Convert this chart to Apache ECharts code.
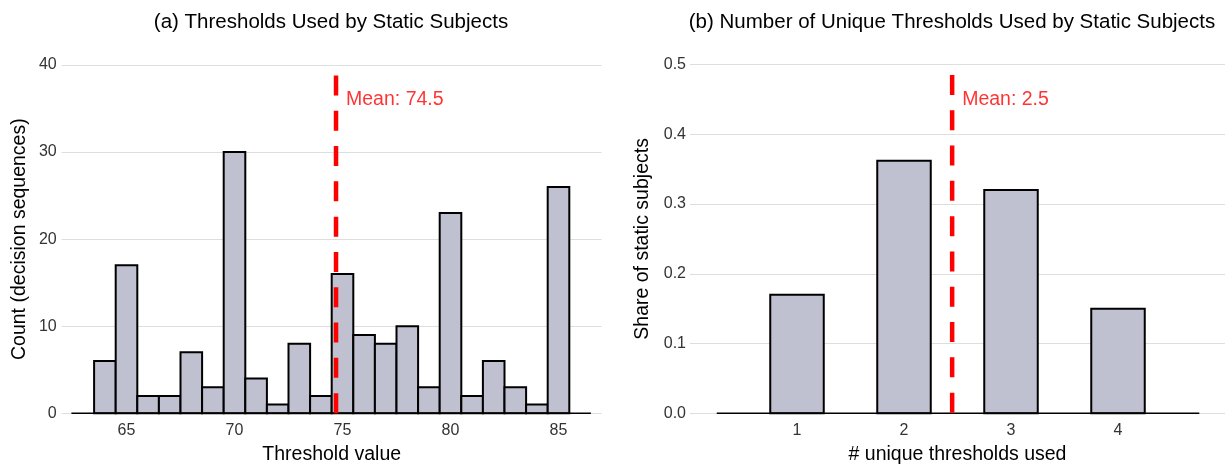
<!DOCTYPE html>
<html>
<head>
<meta charset="utf-8">
<script src="https://cdn.jsdelivr.net/npm/echarts@6/dist/echarts.min.js"></script>
<style>
html,body{margin:0;padding:0;background:#fff;}
#chart{width:1225px;height:464px;}
</style>
</head>
<body>
<div id="chart"></div>
<script>
// ---- Data ----
const thresholds = [64,65,66,67,68,69,70,71,72,73,74,75,76,77,78,79,80,81,82,83,84,85];
const thresholdCounts = [6,17,2,2,7,3,30,4,1,8,2,16,9,8,10,3,23,2,6,3,1,26];
const thresholdTicks = [65,70,75,80,85];
const uniqueCounts = [1,2,3,4];
const uniqueShares = [0.17,0.362,0.32,0.15];
const uniqueTicks = [1,2,3,4];
const meanThreshold = 74.7;
const meanThresholdLabel = 'Mean: 74.5';
const meanUnique = 2.45;
const meanUniqueLabel = 'Mean: 2.5';
const titles = ['(a) Thresholds Used by Static Subjects', '(b) Number of Unique Thresholds Used by Static Subjects'];
const xNames = ['Threshold value', '# unique thresholds used'];
const yNames = ['Count (decision sequences)', 'Share of static subjects'];

// ---- Style ----
const FONT = 'Liberation Sans, Arial, sans-serif';
const BAR_FILL = '#bfc1d1';
const GRID_COLOR = '#dedede';
const TICK_COLOR = '#333333';

function barItem(width) {
  return function (params, api) {
    const x = api.value(0), y = api.value(1);
    const p0 = api.coord([x - width / 2, y]);
    const p1 = api.coord([x + width / 2, 0]);
    return {
      type: 'rect',
      shape: { x: p0[0], y: p0[1], width: p1[0] - p0[0], height: p1[1] - p0[1] },
      style: { fill: BAR_FILL, stroke: '#000', lineWidth: 2 }
    };
  };
}

const chart = echarts.init(document.getElementById('chart'), null, { renderer: 'canvas' });

const axisLabelStyle = { color: TICK_COLOR, fontSize: 16, fontFamily: FONT };
const nameStyle = { color: '#000', fontSize: 19.5, fontFamily: FONT };

const option = {
  animation: false,
  backgroundColor: '#fff',
  textStyle: { fontFamily: FONT },
  graphic: [
    { type: 'text', x: 331, y: 22, style: { text: titles[0], textAlign: 'center', textVerticalAlign: 'middle', fontSize: 20.5, fontFamily: FONT, fill: '#000' } },
    { type: 'text', x: 952, y: 22, style: { text: titles[1], textAlign: 'center', textVerticalAlign: 'middle', fontSize: 20.5, fontFamily: FONT, fill: '#000' } }
  ],
  grid: [
    { left: 61.7, right: 623.3, top: 65, bottom: 50.7, containLabel: false, outerBoundsMode: 'none' },
    { left: 690, right: 0, top: 64.5, bottom: 50.7, containLabel: false, outerBoundsMode: 'none' }
  ],
  xAxis: [
    {
      gridIndex: 0, type: 'value', min: 62, max: 87,
      axisLine: { show: false }, axisTick: { show: false }, splitLine: { show: false },
      axisLabel: Object.assign({ margin: 9, customValues: thresholdTicks }, axisLabelStyle),
      name: xNames[0], nameLocation: 'middle', nameGap: 31, nameTextStyle: nameStyle
    },
    {
      gridIndex: 1, type: 'value', min: 0, max: 5,
      axisLine: { show: false }, axisTick: { show: false }, splitLine: { show: false },
      axisLabel: Object.assign({ margin: 9, customValues: uniqueTicks }, axisLabelStyle),
      name: xNames[1], nameLocation: 'middle', nameGap: 31, nameTextStyle: nameStyle
    }
  ],
  yAxis: [
    {
      gridIndex: 0, type: 'value', min: 0, max: 40, interval: 10,
      axisLine: { show: false }, axisTick: { show: false },
      splitLine: { show: true, lineStyle: { color: GRID_COLOR, width: 1 } },
      axisLabel: Object.assign({ margin: 5 }, axisLabelStyle),
      name: yNames[0], nameLocation: 'middle', nameGap: 32, nameTextStyle: nameStyle
    },
    {
      gridIndex: 1, type: 'value', min: 0, max: 0.5, interval: 0.1,
      axisLine: { show: false }, axisTick: { show: false },
      splitLine: { show: true, lineStyle: { color: GRID_COLOR, width: 1 } },
      axisLabel: Object.assign({ margin: 4, formatter: v => v.toFixed(1) }, axisLabelStyle),
      name: yNames[1], nameLocation: 'middle', nameGap: 37.5, nameTextStyle: nameStyle
    }
  ],
  series: [
    {
      type: 'custom', xAxisIndex: 0, yAxisIndex: 0, z: 2,
      renderItem: barItem(1), encode: { x: 0, y: 1 },
      data: thresholds.map((t, i) => [t, thresholdCounts[i]])
    },
    {
      type: 'line', xAxisIndex: 0, yAxisIndex: 0, z: 3, symbol: 'none', silent: true,
      lineStyle: { color: '#000', width: 1.5 },
      data: [[thresholds[0] - 1.55, 0], [thresholds[thresholds.length - 1] + 1.5, 0]]
    },
    {
      type: 'line', xAxisIndex: 0, yAxisIndex: 0, z: 4, symbol: 'none', silent: true,
      lineStyle: { color: '#ff0000', width: 4.5, type: [20, 15.3] },
      data: [[meanThreshold, 38.8], [meanThreshold, 0]]
    },
    {
      type: 'scatter', xAxisIndex: 0, yAxisIndex: 0, z: 5, symbolSize: 0, silent: true,
      label: { show: true, position: 'right', distance: 10, formatter: meanThresholdLabel, color: '#ff0000', fontSize: 19.5, fontFamily: FONT },
      data: [[meanThreshold, 36]]
    },
    {
      type: 'custom', xAxisIndex: 1, yAxisIndex: 1, z: 2,
      renderItem: barItem(0.5), encode: { x: 0, y: 1 },
      data: uniqueCounts.map((c, i) => [c, uniqueShares[i]])
    },
    {
      type: 'line', xAxisIndex: 1, yAxisIndex: 1, z: 3, symbol: 'none', silent: true,
      lineStyle: { color: '#000', width: 1.5 },
      data: [[uniqueCounts[0] - 0.75, 0], [uniqueCounts[uniqueCounts.length - 1] + 0.76, 0]]
    },
    {
      type: 'line', xAxisIndex: 1, yAxisIndex: 1, z: 4, symbol: 'none', silent: true,
      lineStyle: { color: '#ff0000', width: 4.5, type: [20, 15.3] },
      data: [[meanUnique, 0.485], [meanUnique, 0]]
    },
    {
      type: 'scatter', xAxisIndex: 1, yAxisIndex: 1, z: 5, symbolSize: 0, silent: true,
      label: { show: true, position: 'right', distance: 10, formatter: meanUniqueLabel, color: '#ff0000', fontSize: 19.5, fontFamily: FONT },
      data: [[meanUnique, 0.45]]
    }
  ]
};
chart.setOption(option);
</script>
</body>
</html>
